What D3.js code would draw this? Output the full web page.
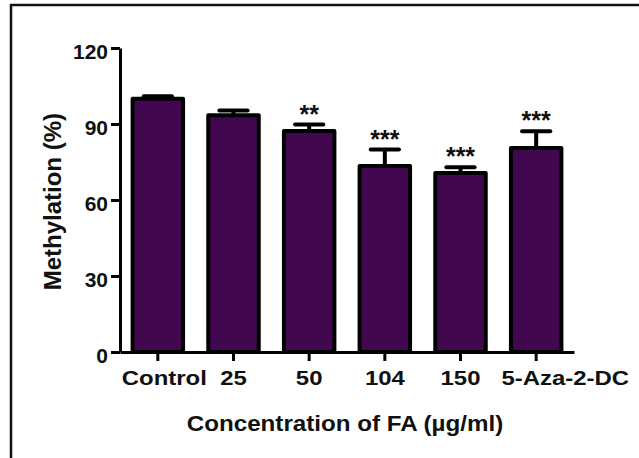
<!DOCTYPE html>
<html>
<head>
<meta charset="utf-8">
<script src="https://cdn.jsdelivr.net/npm/d3@7/dist/d3.min.js"></script>
<style>
  html, body { margin: 0; padding: 0; background: #fff; }
  svg { display: block; }
  text { font-family: "Liberation Sans", Arial, sans-serif; }
</style>
</head>
<body>
<svg id="chart" width="639" height="458"></svg>
<script>
// ---- data ----
const categories = ["Control", "25", "50", "104", "150", "5-Aza-2-DC"];
const meanValues = [100, 93.5, 87.2, 73.4, 70.7, 80.5];
const semValues  = [1.0, 1.8, 2.6, 6.5, 2.2, 6.6];
const significance = ["", "", "**", "***", "***", "***"];
const yTicks = [0, 30, 60, 90, 120];
const yTitle = "Methylation (%)";
const xTitle = "Concentration of FA (\u00b5g/ml)";

// ---- layout ----
const svg = d3.select("#chart");
const W = 639, H = 458;
const barFill = "#41074f";
const textScaleX = 1.14;

// outer frame (only top & left visible)
svg.append("rect")
  .attr("x", 11).attr("y", 5).attr("width", 700).attr("height", 600)
  .attr("fill", "none").attr("stroke", "#111").attr("stroke-width", 2.5);

const x = d3.scaleBand()
  .domain(categories)
  .range([120, 574])
  .paddingInner(0.333)
  .paddingOuter(0.1665);

const y = d3.scaleLinear().domain([0, 120]).range([352, 48]);

const data = categories.map((c, i) => ({c, v: meanValues[i], e: semValues[i], s: significance[i]}));

// bars
svg.append("g").selectAll("rect").data(data).join("rect")
  .attr("x", d => x(d.c))
  .attr("y", d => y(d.v))
  .attr("width", x.bandwidth())
  .attr("height", d => y(0) - y(d.v))
  .attr("fill", barFill)
  .attr("stroke", "#000")
  .attr("stroke-width", 4)
  .attr("stroke-linejoin", "round");

// error bars (upper only)
const capW = x.bandwidth() * 0.56;
const eb = svg.append("g").attr("stroke", "#000").attr("stroke-width", 4);
eb.selectAll("line.v").data(data).join("line")
  .attr("class", "v")
  .attr("x1", d => x(d.c) + x.bandwidth() / 2)
  .attr("x2", d => x(d.c) + x.bandwidth() / 2)
  .attr("y1", d => y(d.v))
  .attr("y2", d => y(d.v + d.e));
eb.selectAll("line.cap").data(data).join("line")
  .attr("class", "cap")
  .attr("stroke-linecap", "round")
  .attr("x1", d => x(d.c) + x.bandwidth() / 2 - capW / 2)
  .attr("x2", d => x(d.c) + x.bandwidth() / 2 + capW / 2)
  .attr("y1", d => y(d.v + d.e))
  .attr("y2", d => y(d.v + d.e));

// significance stars
svg.append("g").selectAll("text").data(data.filter(d => d.s)).join("text")
  .attr("x", d => x(d.c) + x.bandwidth() / 2)
  .attr("y", d => y(d.v + d.e) - 2)
  .attr("text-anchor", "middle")
  .attr("font-size", 25)
  .attr("font-weight", "bold")
  .attr("fill", "#111")
  .text(d => d.s);

// y axis
const yAxis = svg.append("g")
  .attr("transform", "translate(120,0)")
  .call(d3.axisLeft(y).tickValues(yTicks).tickSize(9).tickSizeOuter(0).tickPadding(3));
yAxis.select(".domain").attr("stroke", "#000").attr("stroke-width", 3);
yAxis.selectAll(".tick line").attr("stroke", "#000").attr("stroke-width", 3);
yAxis.selectAll(".tick text")
  .attr("font-size", 21).attr("font-weight", "bold").attr("fill", "#111")
  .attr("font-family", "'Liberation Sans', Arial, sans-serif")
  .attr("dy", null).attr("y", 10).attr("x", -12);

// x axis
const labelShift = {"Control": 6.5, "5-Aza-2-DC": 29};
const xAxis = svg.append("g")
  .attr("transform", "translate(0,352)")
  .call(d3.axisBottom(x).tickSize(9).tickSizeOuter(0));
xAxis.select(".domain").attr("stroke", "#000").attr("stroke-width", 3);
xAxis.selectAll(".tick line").attr("stroke", "#000").attr("stroke-width", 3);
xAxis.selectAll(".tick text")
  .attr("font-size", 21).attr("font-weight", "bold").attr("fill", "#111")
  .attr("font-family", "'Liberation Sans', Arial, sans-serif")
  .attr("dy", null)
  .attr("y", 33)
  .attr("x", d => (labelShift[d] || 0) / textScaleX)
  .attr("transform", `scale(${textScaleX},1)`);

// axis titles
svg.append("text")
  .attr("transform", `translate(${(120 + 574) / 2 - 2},431) scale(1.1,1)`)
  .attr("text-anchor", "middle")
  .attr("font-size", 22).attr("font-weight", "bold").attr("fill", "#111")
  .text(xTitle);

svg.append("text")
  .attr("transform", "translate(61,201.7) rotate(-90)")
  .attr("text-anchor", "middle")
  .attr("font-size", 24).attr("font-weight", "bold").attr("fill", "#111")
  .text(yTitle);
</script>
</body>
</html>
